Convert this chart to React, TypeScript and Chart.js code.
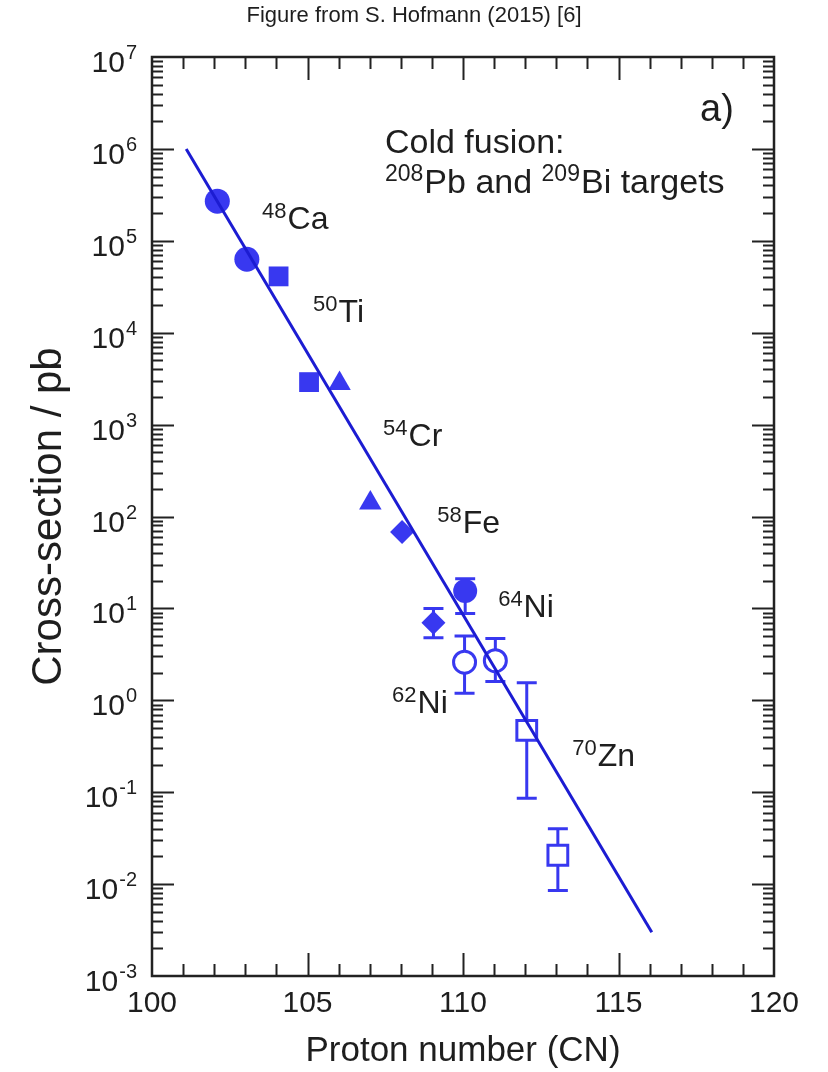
import React, { useEffect, useRef } from 'react';
import { Chart, registerables } from 'chart.js';

Chart.register(...registerables);

const FONT = '"Liberation Sans", Arial, Helvetica, sans-serif';
const TEXT = '#1e1e1e';
const AXIS = '#222222';
const MARK_BLUE = '#3838f0';
const LINE_BLUE = '#1c1cd2';

// ---------- axis ticks ----------
const xTickValues = [100, 105, 110, 115, 120];
const yExponents = [7, 6, 5, 4, 3, 2, 1, 0, -1, -2, -3];

// ---------- fitted systematics line ----------
const fitZ = [101.1, 116.07];
const fitSigma = [1.0e6, 3.0e-3];

// ---------- 48Ca (filled circles) ----------
const ca48Z = [102.1, 103.05];
const ca48Sigma = [2.7e5, 6.3e4];

// ---------- 50Ti (filled squares) ----------
const ti50Z = [104.07, 105.05];
const ti50Sigma = [4.1e4, 2.9e3];

// ---------- 54Cr (filled triangles) ----------
const cr54Z = [106.03, 107.02];
const cr54Sigma = [2.8e3, 1.4e2];

// ---------- 58Fe (filled diamonds) ----------
const fe58Z = [108.04, 109.05];
const fe58Sigma = [68, 7.0];
const fe58Low = [null, 4.8];
const fe58High = [null, 10];

// ---------- 64Ni + 208Pb (filled circle) ----------
const ni64Z = [110.07];
const ni64Sigma = [15.5];
const ni64Low = [8.8];
const ni64High = [21];

// ---------- 62Ni + 208Pb, 64Ni + 209Bi (open circles) ----------
const niOpenZ = [110.05, 111.04];
const niOpenSigma = [2.6, 2.7];
const niOpenLow = [1.19, 1.6];
const niOpenHigh = [5.0, 4.7];

// ---------- 70Zn (open squares) ----------
const zn70Z = [112.05, 113.05];
const zn70Sigma = [0.47, 0.0206];
const zn70Low = [0.086, 0.0085];
const zn70High = [1.55, 0.04];

// ---------- projectile labels ----------
const labelMass = ['48', '50', '54', '58', '64', '62', '70'];
const labelElement = ['Ca', 'Ti', 'Cr', 'Fe', 'Ni', 'Ni', 'Zn'];
const labelAnchorZ = [103.54, 105.18, 107.43, 109.17, 111.13, 107.72, 113.51];
const labelAnchorSigma = [1.34e5, 1.3e4, 5.8e2, 66, 8.0, 0.726, 0.192];

const pts = (xs: number[], ys: number[]) => xs.map((x, i) => ({ x, y: ys[i] }));

const errorSets = [
  { z: fe58Z, low: fe58Low, high: fe58High },
  { z: ni64Z, low: ni64Low, high: ni64High },
  { z: niOpenZ, low: niOpenLow, high: niOpenHigh },
  { z: zn70Z, low: zn70Low, high: zn70High },
];

function supText(ctx: CanvasRenderingContext2D, x: number, y: number, parts: [string, boolean][], mainSize: number, supSize: number, raise: number) {
  let cx = x;
  ctx.textAlign = 'left';
  ctx.textBaseline = 'alphabetic';
  for (const [t, sup] of parts) {
    ctx.font = `${sup ? supSize : mainSize}px ${FONT}`;
    ctx.fillText(t, cx, sup ? y - raise : y);
    cx += ctx.measureText(t).width + (sup ? 1 : 0);
  }
  return cx;
}

const customPlugin = {
  id: 'customDraw',
  beforeDatasetsDraw(chart: any) {
    const ctx = chart.ctx as CanvasRenderingContext2D;
    const xs = chart.scales.x;
    const ys = chart.scales.y;
    ctx.save();
    ctx.strokeStyle = MARK_BLUE;
    ctx.lineWidth = 3;
    for (const set of errorSets) {
      set.z.forEach((z, i) => {
        const lo = set.low[i];
        const hi = set.high[i];
        if (lo == null || hi == null) return;
        const px = xs.getPixelForValue(z);
        const pLo = ys.getPixelForValue(lo);
        const pHi = ys.getPixelForValue(hi);
        ctx.beginPath();
        ctx.moveTo(px, pLo);
        ctx.lineTo(px, pHi);
        ctx.moveTo(px - 10, pLo);
        ctx.lineTo(px + 10, pLo);
        ctx.moveTo(px - 10, pHi);
        ctx.lineTo(px + 10, pHi);
        ctx.stroke();
      });
    }
    ctx.restore();
  },
  afterDraw(chart: any) {
    const ctx = chart.ctx as CanvasRenderingContext2D;
    const { left, right, top, bottom } = chart.chartArea;
    const xs = chart.scales.x;
    const ys = chart.scales.y;
    ctx.save();
    // ticks (inward on all four sides)
    ctx.strokeStyle = AXIS;
    ctx.lineWidth = 2;
    ctx.beginPath();
    for (let v = 101; v < 120; v++) {
      const px = Math.round(xs.getPixelForValue(v)) + 0.5;
      const len = v % 5 === 0 ? 23 : 12;
      ctx.moveTo(px, bottom);
      ctx.lineTo(px, bottom - len);
      ctx.moveTo(px, top);
      ctx.lineTo(px, top + len);
    }
    for (let k = -3; k < 7; k++) {
      for (let m = 1; m <= 9; m++) {
        if (k === -3 && m === 1) continue;
        const py = Math.round(ys.getPixelForValue(m * Math.pow(10, k))) + 0.5;
        const len = m === 1 ? 22 : 11;
        ctx.moveTo(left, py);
        ctx.lineTo(left + len, py);
        ctx.moveTo(right, py);
        ctx.lineTo(right - len, py);
      }
    }
    ctx.stroke();
    // frame
    ctx.lineWidth = 2.5;
    ctx.strokeRect(left, top, right - left, bottom - top);

    // y tick labels 10^k
    ctx.fillStyle = TEXT;
    for (const k of yExponents) {
      const py = ys.getPixelForValue(Math.pow(10, k));
      const exp = String(k);
      ctx.font = `20px ${FONT}`;
      ctx.textAlign = 'right';
      ctx.textBaseline = 'alphabetic';
      const ew = ctx.measureText(exp).width;
      const rx = 137;
      ctx.fillText(exp, rx, py + 2);
      ctx.font = `30px ${FONT}`;
      ctx.fillText('10', rx - ew - 1, py + 15);
    }

    // projectile labels
    labelMass.forEach((m, i) => {
      const px = xs.getPixelForValue(labelAnchorZ[i]);
      const py = ys.getPixelForValue(labelAnchorSigma[i]);
      supText(ctx, px, py, [[m, true], [labelElement[i], false]], 32, 22, 11);
    });

    // panel text
    ctx.font = `38px ${FONT}`;
    ctx.textAlign = 'left';
    ctx.fillText('a)', 700, 121);
    ctx.font = `34px ${FONT}`;
    ctx.fillText('Cold fusion:', 385, 153);
    supText(ctx, 385, 193, [['208', true], ['Pb and ', false], ['209', true], ['Bi targets', false]], 34, 23, 12);

    // figure caption
    ctx.font = `22px ${FONT}`;
    ctx.textAlign = 'center';
    ctx.fillText('Figure from S. Hofmann (2015) [6]', 414, 22);
    ctx.restore();
  },
};

export default function App() {
  const canvasRef = useRef<HTMLCanvasElement | null>(null);

  useEffect(() => {
    if (!canvasRef.current) return;
    const filled = (color: string) => ({
      backgroundColor: color,
      borderColor: color,
      borderWidth: 0,
      showLine: false,
    });
    const chart = new Chart(canvasRef.current, {
      type: 'scatter',
      data: {
        datasets: [
          {
            label: 'fit',
            data: pts(fitZ, fitSigma),
            showLine: true,
            borderColor: LINE_BLUE,
            borderWidth: 3,
            pointRadius: 0,
            order: -1,
          },
          { label: '48Ca', data: pts(ca48Z, ca48Sigma), pointStyle: 'circle', pointRadius: 12.5, ...filled(MARK_BLUE) },
          { label: '50Ti', data: pts(ti50Z, ti50Sigma), pointStyle: 'rect', pointRadius: 14, ...filled(MARK_BLUE) },
          { label: '54Cr', data: pts(cr54Z, cr54Sigma), pointStyle: 'triangle', pointRadius: 13, ...filled(MARK_BLUE) },
          { label: '58Fe', data: pts(fe58Z, fe58Sigma), pointStyle: 'rectRot', pointRadius: 12, ...filled(MARK_BLUE) },
          { label: '64Ni', data: pts(ni64Z, ni64Sigma), pointStyle: 'circle', pointRadius: 12, ...filled(MARK_BLUE) },
          {
            label: 'Ni open',
            data: pts(niOpenZ, niOpenSigma),
            pointStyle: 'circle',
            pointRadius: 11,
            backgroundColor: '#ffffff',
            borderColor: MARK_BLUE,
            borderWidth: 3,
            showLine: false,
          },
          {
            label: '70Zn',
            data: pts(zn70Z, zn70Sigma),
            pointStyle: 'rect',
            pointRadius: 14,
            backgroundColor: '#ffffff',
            borderColor: MARK_BLUE,
            borderWidth: 3,
            showLine: false,
          },
        ],
      },
      options: {
        animation: false,
        responsive: false,
        devicePixelRatio: 1,
        layout: { padding: { top: 57, right: 54, left: 0, bottom: 0 } },
        plugins: { legend: { display: false }, tooltip: { enabled: false }, title: { display: false } },
        scales: {
          x: {
            type: 'linear',
            min: 100,
            max: 120,
            afterBuildTicks: (scale: any) => {
              scale.ticks = xTickValues.map((v) => ({ value: v }));
            },
            ticks: {
              color: TEXT,
              font: { family: FONT, size: 30 },
              padding: 10,
              maxRotation: 0,
              autoSkip: false,
            },
            grid: { display: false, drawTicks: false },
            border: { display: false },
            title: {
              display: true,
              text: 'Proton number (CN)',
              color: TEXT,
              font: { family: FONT, size: 35 },
              padding: { top: 0, bottom: 0 },
            },
            afterFit: (scale: any) => {
              scale.height = 96;
            },
          },
          y: {
            type: 'logarithmic',
            min: 1e-3,
            max: 1e7,
            ticks: { display: false },
            grid: { display: false, drawTicks: false },
            border: { display: false },
            title: {
              display: true,
              text: 'Cross-section / pb',
              color: TEXT,
              font: { family: FONT, size: 42 },
              padding: { top: 24, bottom: 0 },
            },
            afterFit: (scale: any) => {
              scale.width = 152;
            },
          },
        },
      },
      plugins: [customPlugin],
    } as any);
    return () => chart.destroy();
  }, []);

  return (
    <div style={{ position: 'absolute', left: 0, top: 0, width: 828, height: 1072, background: '#ffffff' }}>
      <canvas ref={canvasRef} width={828} height={1072} />
    </div>
  );
}
